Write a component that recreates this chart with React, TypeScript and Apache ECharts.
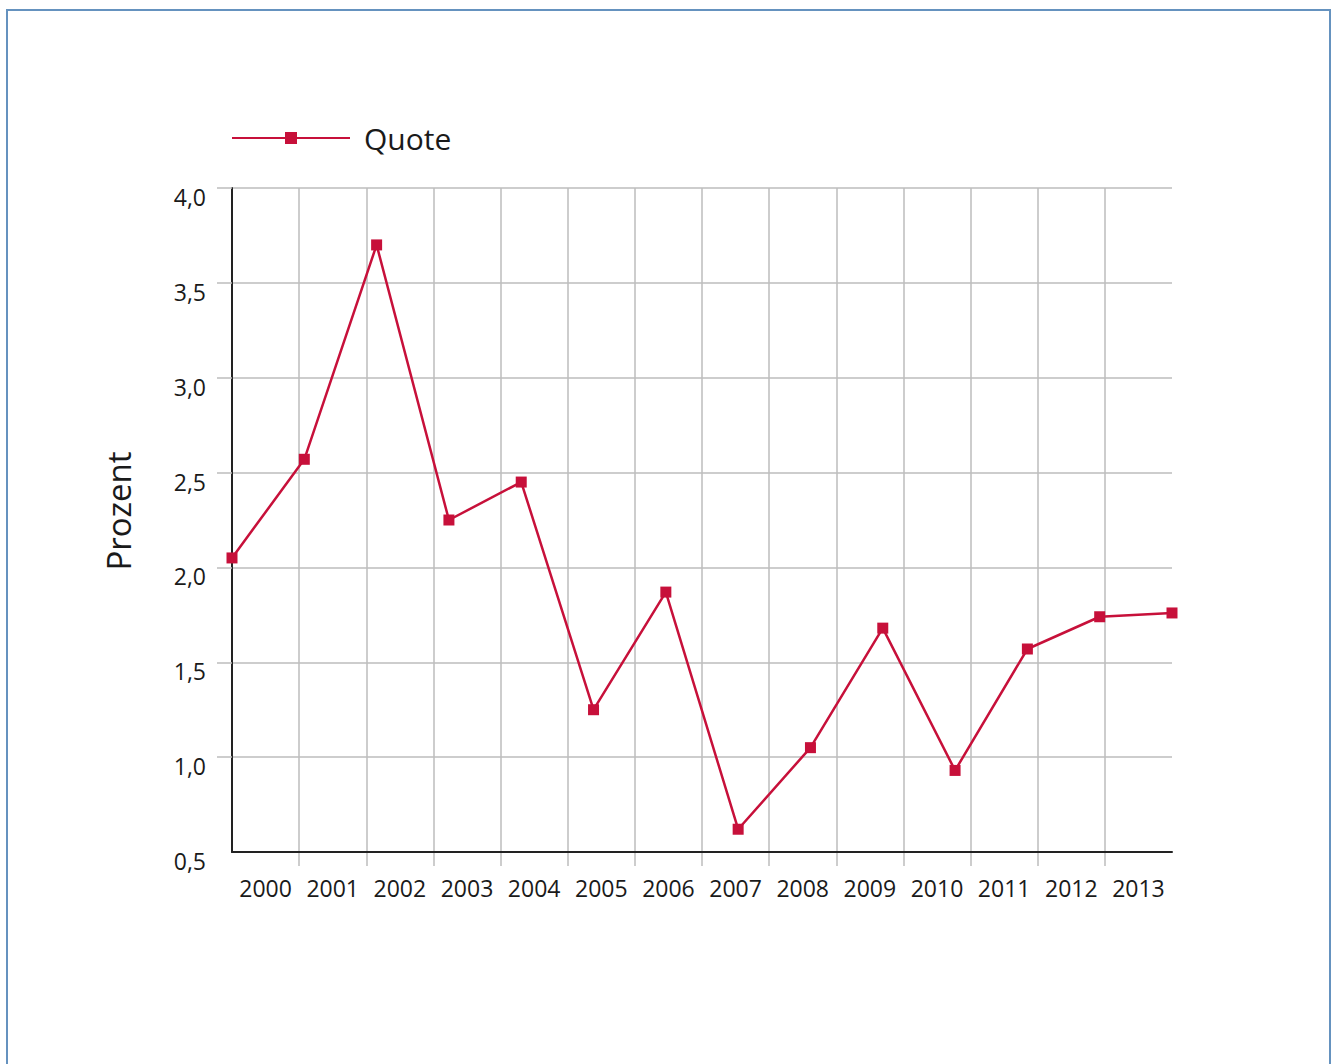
import React, { useEffect, useRef } from "react";
import * as echarts from "echarts";

const years = ["2000", "2001", "2002", "2003", "2004", "2005", "2006", "2007", "2008", "2009", "2010", "2011", "2012", "2013"];
const quote = [2.05, 2.57, 3.7, 2.25, 2.45, 1.25, 1.87, 0.62, 1.05, 1.68, 0.93, 1.57, 1.74, 1.76];
const seriesName = "Quote";
const yAxisName = "Prozent";
const yMin = 0.5;
const yMax = 4.0;
const yStep = 0.5;
const yTickValues = [1.0, 1.5, 2.0, 2.5, 3.0, 3.5, 4.0];
const xBoundaryTicks = [1, 2, 3, 4, 5, 6, 7, 8, 9, 10, 11, 12, 13];

const FONT = "'Open Sans', 'Noto Sans', sans-serif";
const RED = "#c7103a";
const GRID = "#bcbcbc";
const AXIS = "#222222";
const TEXT = "#1a1a1a";

export default function App() {
  const ref = useRef<HTMLDivElement>(null);
  useEffect(() => {
    if (!ref.current) return;
    const chart = echarts.init(ref.current, null, { renderer: "svg" });
    chart.setOption({
      animation: false,
      backgroundColor: "#ffffff",
      textStyle: { fontFamily: FONT },
      graphic: [
        {
          type: "rect",
          shape: { x: 7, y: 10, width: 1323, height: 1100 },
          style: { fill: "none", stroke: "#6592bf", lineWidth: 2 },
          silent: true,
          z: -10,
        },
        {
          type: "text",
          x: 118,
          y: 511,
          rotation: Math.PI / 2,
          silent: true,
          style: {
            text: yAxisName,
            fontSize: 33,
            fontFamily: FONT,
            fill: TEXT,
            align: "center",
            verticalAlign: "middle",
          },
        },
      ],
      legend: {
        left: 226,
        top: 118,
        itemWidth: 118,
        itemHeight: 15,
        itemGap: 20,
        textStyle: { fontSize: 30, color: TEXT, fontFamily: FONT, padding: [0, 0, 6, 9] },
        data: [seriesName],
      },
      grid: { left: 232, right: 163, top: 188, bottom: 212, containLabel: false },
      xAxis: [
        {
          type: "value",
          min: 0,
          max: years.length,
          interval: 1,
          z: 0,
          axisLine: { show: false },
          axisLabel: { show: false },
          axisTick: {
            show: true,
            customValues: xBoundaryTicks,
            length: 14,
            lineStyle: { color: GRID, width: 1.5 },
          },
          splitLine: { show: true, lineStyle: { color: GRID, width: 1.5 } },
        },
        {
          type: "category",
          data: years,
          boundaryGap: true,
          position: "bottom",
          z: 2,
          axisLine: { show: true, lineStyle: { color: AXIS, width: 2 } },
          axisTick: { show: false },
          splitLine: { show: false },
          axisLabel: { show: true, interval: 0, margin: 24, fontSize: 23, color: TEXT, fontFamily: FONT },
        },
        {
          type: "category",
          data: years,
          boundaryGap: false,
          show: false,
        },
      ],
      yAxis: {
        type: "value",
        min: yMin,
        max: yMax,
        interval: yStep,
        z: 1,
        axisLine: { show: true, lineStyle: { color: AXIS, width: 2 } },
        axisTick: {
          show: true,
          customValues: yTickValues,
          length: 15,
          lineStyle: { color: GRID, width: 1.5 },
        },
        splitLine: { show: true, lineStyle: { color: GRID, width: 1.5 } },
        axisLabel: {
          margin: 26,
          fontSize: 23,
          lineHeight: 18,
          color: TEXT,
          fontFamily: FONT,
          verticalAlign: "top",
          formatter: (v: number) => v.toFixed(1).replace(".", ","),
        },
      },
      series: [
        {
          name: seriesName,
          type: "line",
          xAxisIndex: 2,
          data: quote,
          symbol: "rect",
          symbolSize: 11,
          z: 10,
          lineStyle: { color: RED, width: 2.5 },
          itemStyle: { color: RED },
        },
      ],
    });
    return () => chart.dispose();
  }, []);
  return (
    <div
      ref={ref}
      style={{ position: "fixed", left: 0, top: 0, width: 1335, height: 1064, background: "#fff" }}
    />
  );
}
